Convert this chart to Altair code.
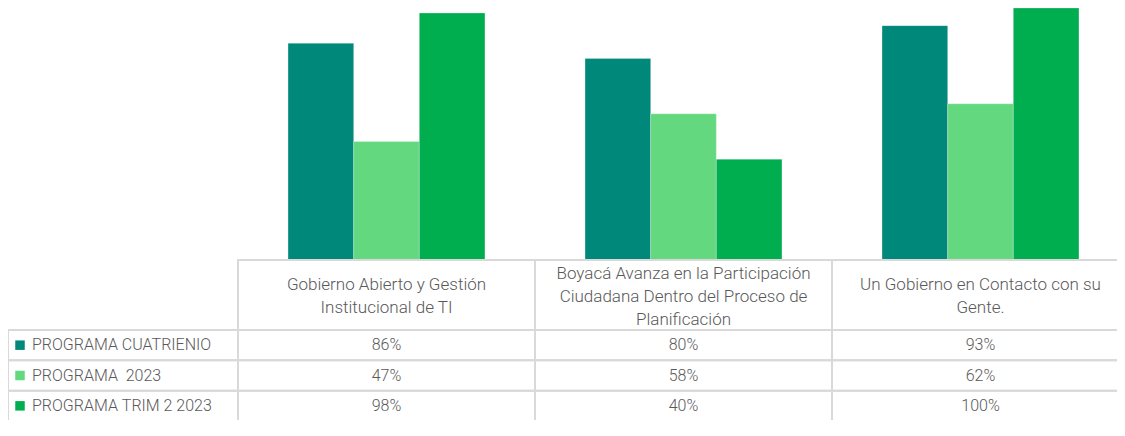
import altair as alt
import pandas as pd

categories = [
    "Gobierno Abierto y Gestión Institucional de TI",
    "Boyacá Avanza en la Participación Ciudadana Dentro del Proceso de Planificación",
    "Un Gobierno en Contacto con su Gente.",
]
header_lines = [
    "Gobierno Abierto y Gestión\nInstitucional de TI",
    "Boyacá Avanza en la Participación\nCiudadana Dentro del Proceso de\nPlanificación",
    "Un Gobierno en Contacto con su\nGente.",
]
series = ["PROGRAMA CUATRIENIO", "PROGRAMA  2023", " PROGRAMA TRIM 2 2023"]
cuatrienio = [0.86, 0.80, 0.93]
prog_2023 = [0.47, 0.58, 0.62]
trim2 = [0.98, 0.40, 1.00]
colors = ["#00887A", "#63D87E", "#00AE4F"]

rows = []
for i, c in enumerate(categories):
    for s, vals in zip(series, [cuatrienio, prog_2023, trim2]):
        rows.append({"categoria": c, "serie": s, "valor": vals[i]})
df = pd.DataFrame(rows)
hdr = pd.DataFrame({"categoria": categories, "titulo": header_lines,
                    "lineas": [h.count("\n") + 1 for h in header_lines]})
ser = pd.DataFrame({"serie": series, "etiqueta": [s.replace(" ", "\u00a0") for s in series]})

FONT = "Roboto"
TXT = "#595959"
GRID = "#D9D9D9"

X_TABLE = alt.Scale(domain=categories, range=[230, 1121], paddingInner=0, paddingOuter=0)
X_BARS = alt.Scale(domain=categories, range=[230, 1121], paddingInner=0.337, paddingOuter=0.1685)
Y_BARS = alt.Scale(domain=[0, 1], range=[252, 0])
Y_ROWS = alt.Scale(domain=series, range=[322, 413], paddingInner=0, paddingOuter=0)
COLOR = alt.Scale(domain=series, range=colors)

bars = alt.Chart(df).mark_bar(stroke="#FFFFFF", strokeWidth=0.5, strokeOpacity=0.5).encode(
    x=alt.X("categoria:N", scale=X_BARS, axis=None, sort=categories),
    xOffset=alt.XOffset("serie:N", scale=alt.Scale(domain=series, paddingInner=0, paddingOuter=0), sort=series),
    y=alt.Y("valor:Q", scale=Y_BARS, axis=None),
    color=alt.Color("serie:N", scale=COLOR, legend=None),
)

header_cells = alt.Chart(hdr).mark_rect(fill=None, stroke=GRID, strokeWidth=2).encode(
    x=alt.X("categoria:N", scale=X_TABLE, axis=None, sort=categories),
    y=alt.value(252),
    y2=alt.value(322),
)


def header_text_layer(n_lines, ypos):
    return alt.Chart(hdr).transform_filter(
        alt.datum.lineas == n_lines
    ).mark_text(
        font=FONT, fontSize=17, fontWeight=300, color=TXT, lineBreak="\n", lineHeight=23,
        align="center", baseline="middle",
    ).encode(
        x=alt.X("categoria:N", scale=X_TABLE, axis=None, sort=categories),
        y=alt.value(ypos),
        text="titulo:N",
    )


header_text2 = header_text_layer(2, 277)
header_text3 = header_text_layer(3, 266)

data_cells = alt.Chart(df).mark_rect(fill=None, stroke=GRID, strokeWidth=2).encode(
    x=alt.X("categoria:N", scale=X_TABLE, axis=None, sort=categories),
    y=alt.Y("serie:N", scale=Y_ROWS, axis=None, sort=series),
)

label_cells = alt.Chart(ser).mark_rect(fill=None, stroke=GRID, strokeWidth=2).encode(
    x=alt.value(0),
    x2=alt.value(230),
    y=alt.Y("serie:N", scale=Y_ROWS, axis=None, sort=series),
)

value_text = alt.Chart(df).mark_text(
    font=FONT, fontSize=16, fontWeight=300, color=TXT, align="center", baseline="middle",
).encode(
    x=alt.X("categoria:N", scale=X_TABLE, axis=None, sort=categories),
    y=alt.Y("serie:N", scale=Y_ROWS, axis=None, sort=series),
    text=alt.Text("valor:Q", format=".0%"),
)

legend_sq = alt.Chart(ser).mark_square(size=90, opacity=1).encode(
    x=alt.value(12),
    y=alt.Y("serie:N", scale=Y_ROWS, axis=None, sort=series),
    color=alt.Color("serie:N", scale=COLOR, legend=None),
)

legend_text = alt.Chart(ser).mark_text(
    font=FONT, fontSize=16, fontWeight=300, color=TXT, align="left", baseline="middle",
).encode(
    x=alt.value(24),
    y=alt.Y("serie:N", scale=Y_ROWS, axis=None, sort=series),
    text="etiqueta:N",
)

chart = alt.layer(
    bars, header_cells, data_cells, label_cells, header_text2, header_text3,
    value_text, legend_sq, legend_text
).resolve_scale(
    x="independent", y="independent", color="shared"
).properties(
    width=1109, height=412, padding=0,
    autosize=alt.AutoSizeParams(type="none"),
).configure_view(stroke=None)

chart.save("out.html", embed_options={"renderer": "svg", "actions": False})
